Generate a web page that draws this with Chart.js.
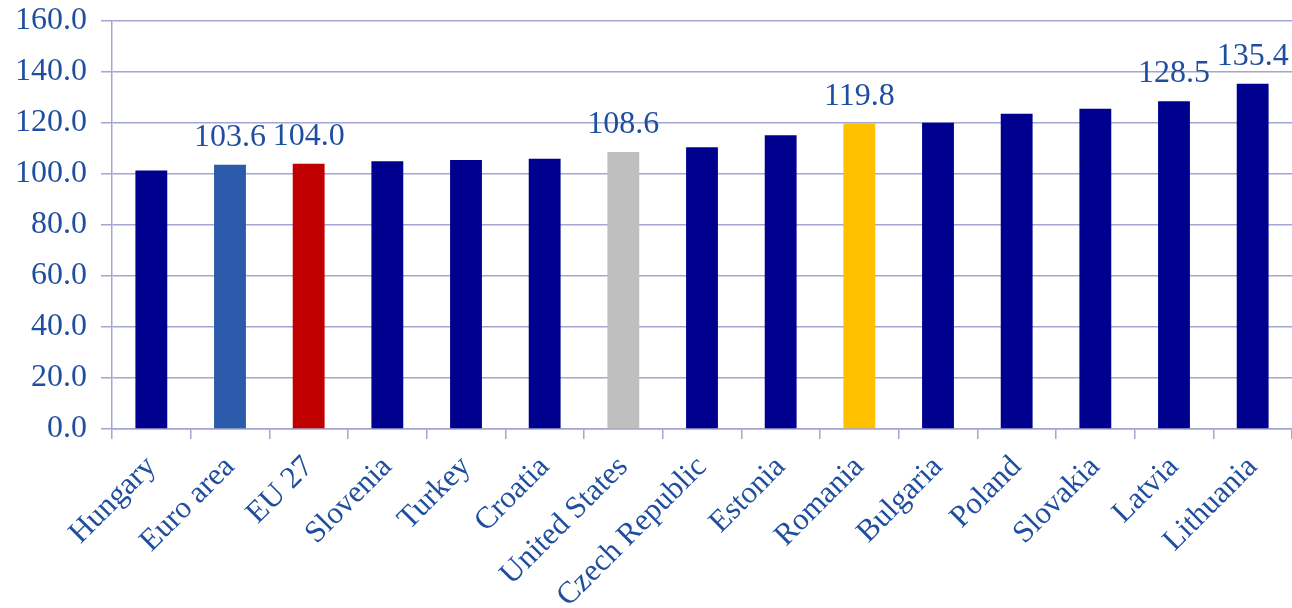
<!DOCTYPE html>
<html>
<head>
<meta charset="utf-8">
<script src="https://cdn.jsdelivr.net/npm/chart.js@4/dist/chart.umd.min.js"></script>
<style>
  html, body { margin: 0; padding: 0; background: #fff; overflow: hidden; }
  #wrap { width: 1292px; height: 608px; position: relative; }
</style>
</head>
<body>
<div id="wrap"><canvas id="chart"></canvas></div>
<script>
const countries = [
  "Hungary", "Euro area", "EU 27", "Slovenia", "Turkey", "Croatia",
  "United States", "Czech Republic", "Estonia", "Romania", "Bulgaria",
  "Poland", "Slovakia", "Latvia", "Lithuania"
];
const values = [101.4, 103.6, 104.0, 105.0, 105.5, 106.0, 108.6, 110.5, 115.2, 119.8, 120.1, 123.6, 125.6, 128.5, 135.4];
const labelled = ["Euro area", "EU 27", "United States", "Romania", "Latvia", "Lithuania"];
const yTicks = [0, 20, 40, 60, 80, 100, 120, 140, 160];

const highlight = {
  "Euro area": "#2B5BAA",
  "EU 27": "#C00000",
  "United States": "#BFBFBF",
  "Romania": "#FFC000"
};
const navy = "#00008E";
const textBlue = "#1F4E9F";
const gridColor = "#A3A6D2";

// value labels above a few bars
const valueLabels = {
  id: "valueLabels",
  afterDatasetsDraw(chart) {
    const ctx = chart.ctx;
    const meta = chart.getDatasetMeta(0);
    ctx.save();
    ctx.font = "32px 'Liberation Serif', serif";
    ctx.fillStyle = textBlue;
    ctx.textAlign = "center";
    ctx.textBaseline = "alphabetic";
    meta.data.forEach((bar, i) => {
      if (!labelled.includes(countries[i])) return;
      ctx.fillText(values[i].toFixed(1), bar.x, bar.y - 19);
    });
    ctx.restore();
  }
};

new Chart(document.getElementById("chart"), {
  type: "bar",
  data: {
    labels: countries,
    datasets: [{
      data: values,
      backgroundColor: countries.map(c => highlight[c] || navy),
      barPercentage: 0.405,
      categoryPercentage: 1.0
    }]
  },
  options: {
    responsive: true,
    maintainAspectRatio: false,
    animation: false,
    layout: { padding: { left: 17, top: 21, right: 0, bottom: 0 } },
    plugins: {
      legend: { display: false },
      tooltip: { enabled: false }
    },
    scales: {
      x: {
        offset: true,
        grid: {
          offset: true,
          drawOnChartArea: false,
          color: gridColor,
          lineWidth: 1.5,
          tickLength: 10
        },
        border: { color: gridColor, width: 1.5 },
        ticks: {
          color: textBlue,
          font: { family: "'Liberation Serif', serif", size: 31 },
          maxRotation: 45,
          minRotation: 45,
          padding: 10,
          autoSkip: false
        },
        afterFit(scale) {
          scale.height = 179;
          scale.paddingLeft = 0;
          scale.paddingRight = 0;
        }
      },
      y: {
        min: 0,
        max: 160,
        afterBuildTicks(scale) { scale.ticks = yTicks.map(v => ({ value: v })); },
        grid: {
          color: gridColor,
          lineWidth: 1.5,
          tickLength: 11
        },
        border: { color: gridColor, width: 1.5 },
        ticks: {
          color: textBlue,
          font: { family: "'Liberation Serif', serif", size: 32 },
          padding: 14,
          callback: v => Number(v).toFixed(1)
        },
        afterFit(scale) {
          scale.paddingTop = 0;
          scale.width = 95;
        }
      }
    }
  },
  plugins: [valueLabels]
});
</script>
</body>
</html>
